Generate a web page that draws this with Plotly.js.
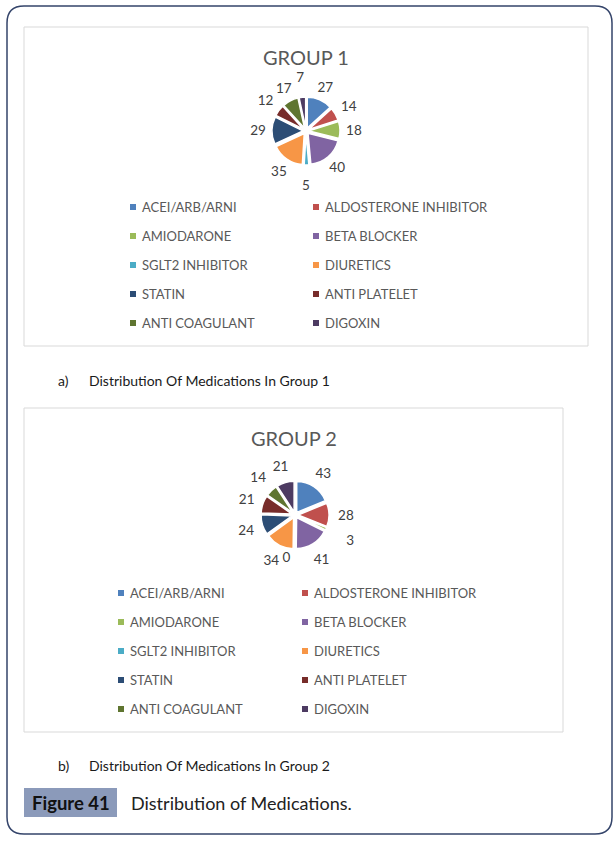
<!DOCTYPE html>
<html>
<head>
<meta charset="utf-8">
<script src="https://cdn.plot.ly/plotly-3.0.1.min.js"></script>
<style>html,body{margin:0;padding:0;background:#fff;}#chart{width:616px;height:843px;}</style>
</head>
<body>
<div id="chart"></div>
<script>
// ---- data ----
const categories = ["ACEI/ARB/ARNI","ALDOSTERONE INHIBITOR","AMIODARONE","BETA BLOCKER","SGLT2 INHIBITOR","DIURETICS","STATIN","ANTI PLATELET","ANTI COAGULANT","DIGOXIN"];
const group1Values = [27,14,18,40,5,35,29,12,17,7];
const group2Values = [43,28,3,41,0,34,24,21,14,21];
const sliceColors = ["#4F81BD","#C0504D","#9BBB59","#8064A2","#4BACC6","#F79646","#2C4D75","#772C2A","#5F7530","#4D3B62"];
const chartTitles = ["GROUP 1","GROUP 2"];
const captions = ["Distribution Of Medications In Group 1","Distribution Of Medications In Group 2"];
const captionTags = ["a)","b)"];
const figureLabel = "Figure 41";
const figureCaption = "Distribution of Medications.";

// ---- layout helpers (pixel space) ----
const W = 616, H = 843;
const FONT = "Lato, 'Open Sans', sans-serif";
const panels = [
  {box:[24,27,588,346], cx:306, cy:131, half:34, ringOuter:60, ringInner:36, titleY:57, legY:207, col1:133, col2:316, capY:380},
  {box:[24,408,563,732], cx:295, cy:515, half:34, ringOuter:63, ringInner:39, titleY:438, legY:593, col1:121, col2:305, capY:765}
];
const rowGap = 29;
const LABEL_FONT = {family: FONT, size: 13.5, color: '#404040'};

function dom(cx, cy, half) {
  return {x: [(cx - half) / W, (cx + half) / W], y: [1 - (cy + half) / H, 1 - (cy - half) / H]};
}

const traces = [];
[group1Values, group2Values].forEach((vals, i) => {
  const p = panels[i];
  // the pie itself (exploded slices); an empty slice keeps its label just outside
  traces.push({
    type: 'pie', labels: categories, values: vals,
    sort: false, direction: 'clockwise', rotation: 0, pull: 0.1,
    marker: {colors: sliceColors, line: {color: '#ffffff', width: 1.5}},
    textinfo: 'value', textposition: vals.map(v => v === 0 ? 'outside' : 'none'),
    textfont: LABEL_FONT,
    showlegend: false, hoverinfo: 'label+value',
    domain: dom(p.cx, p.cy, p.half)
  });
  // transparent ring carrying the value labels around the pie
  traces.push({
    type: 'pie', labels: categories, values: vals,
    sort: false, direction: 'clockwise', rotation: 0,
    hole: p.ringInner / p.ringOuter,
    marker: {colors: categories.map(() => 'rgba(0,0,0,0)'), line: {width: 0}},
    textinfo: 'value', textposition: vals.map(v => v === 0 ? 'none' : 'inside'),
    insidetextorientation: 'horizontal',
    textfont: LABEL_FONT,
    showlegend: false, hoverinfo: 'skip',
    domain: dom(p.cx, p.cy, p.ringOuter)
  });
});

const shapes = [];
const annotations = [];

// outer rounded frame
(function(){
  const x0 = 7, y0 = 6, x1 = 612, y1 = 834, r = 17;
  const path = `M ${x0+r},${y0} L ${x1-r},${y0} Q ${x1},${y0} ${x1},${y0+r} L ${x1},${y1-r} Q ${x1},${y1} ${x1-r},${y1} L ${x0+r},${y1} Q ${x0},${y1} ${x0},${y1-r} L ${x0},${y0+r} Q ${x0},${y0} ${x0+r},${y0} Z`;
  shapes.push({type:'path', xref:'x', yref:'y', path, line:{color:'#34446a', width:1.5}, layer:'below'});
})();

panels.forEach((p, i) => {
  shapes.push({type:'rect', xref:'x', yref:'y', x0:p.box[0], y0:p.box[1], x1:p.box[2], y1:p.box[3], line:{color:'#d9d9d9', width:1}, layer:'below'});
  annotations.push({xref:'x', yref:'y', x:(p.box[0]+p.box[2])/2, y:p.titleY, text:chartTitles[i], showarrow:false, xanchor:'center', yanchor:'middle', font:{family:FONT, size:20, color:'#595959'}});
  categories.forEach((c, k) => {
    const col = k % 2, row = Math.floor(k / 2);
    const mx = col === 0 ? p.col1 : p.col2;
    const my = p.legY + row * rowGap;
    shapes.push({type:'rect', xref:'x', yref:'y', x0:mx-3, x1:mx+3, y0:my-3, y1:my+3, fillcolor:sliceColors[k], line:{width:0}});
    annotations.push({xref:'x', yref:'y', x:mx+7, y:my, text:c, showarrow:false, xanchor:'left', yanchor:'middle', font:{family:FONT, size:13, color:'#595959'}});
  });
  annotations.push({xref:'x', yref:'y', x:56, y:p.capY, text:captionTags[i], showarrow:false, xanchor:'left', yanchor:'middle', font:{family:FONT, size:14, color:'#1a1a1a'}});
  annotations.push({xref:'x', yref:'y', x:87, y:p.capY, text:captions[i], showarrow:false, xanchor:'left', yanchor:'middle', font:{family:FONT, size:14, color:'#1a1a1a'}});
});

// figure label
shapes.push({type:'rect', xref:'x', yref:'y', x0:24, x1:117, y0:788, y1:817, fillcolor:'#8b9aba', line:{width:0}, layer:'below'});
annotations.push({xref:'x', yref:'y', x:70.5, y:803, text:'<b>' + figureLabel + '</b>', showarrow:false, xanchor:'center', yanchor:'middle', font:{family:FONT, size:18.5, color:'#111111'}});
annotations.push({xref:'x', yref:'y', x:129, y:803, text:figureCaption, showarrow:false, xanchor:'left', yanchor:'middle', font:{family:FONT, size:18, color:'#222222'}});

const layout = {
  width: W, height: H,
  margin: {l:0, r:0, t:0, b:0},
  paper_bgcolor: '#ffffff', plot_bgcolor: 'rgba(0,0,0,0)',
  xaxis: {range:[0, W], visible:false, fixedrange:true},
  yaxis: {range:[H, 0], visible:false, fixedrange:true},
  showlegend: false,
  uniformtext: {mode: 'show', minsize: 13.5},
  shapes, annotations
};

Plotly.newPlot('chart', traces, layout, {displayModeBar:false, staticPlot:true});
</script>
</body>
</html>
